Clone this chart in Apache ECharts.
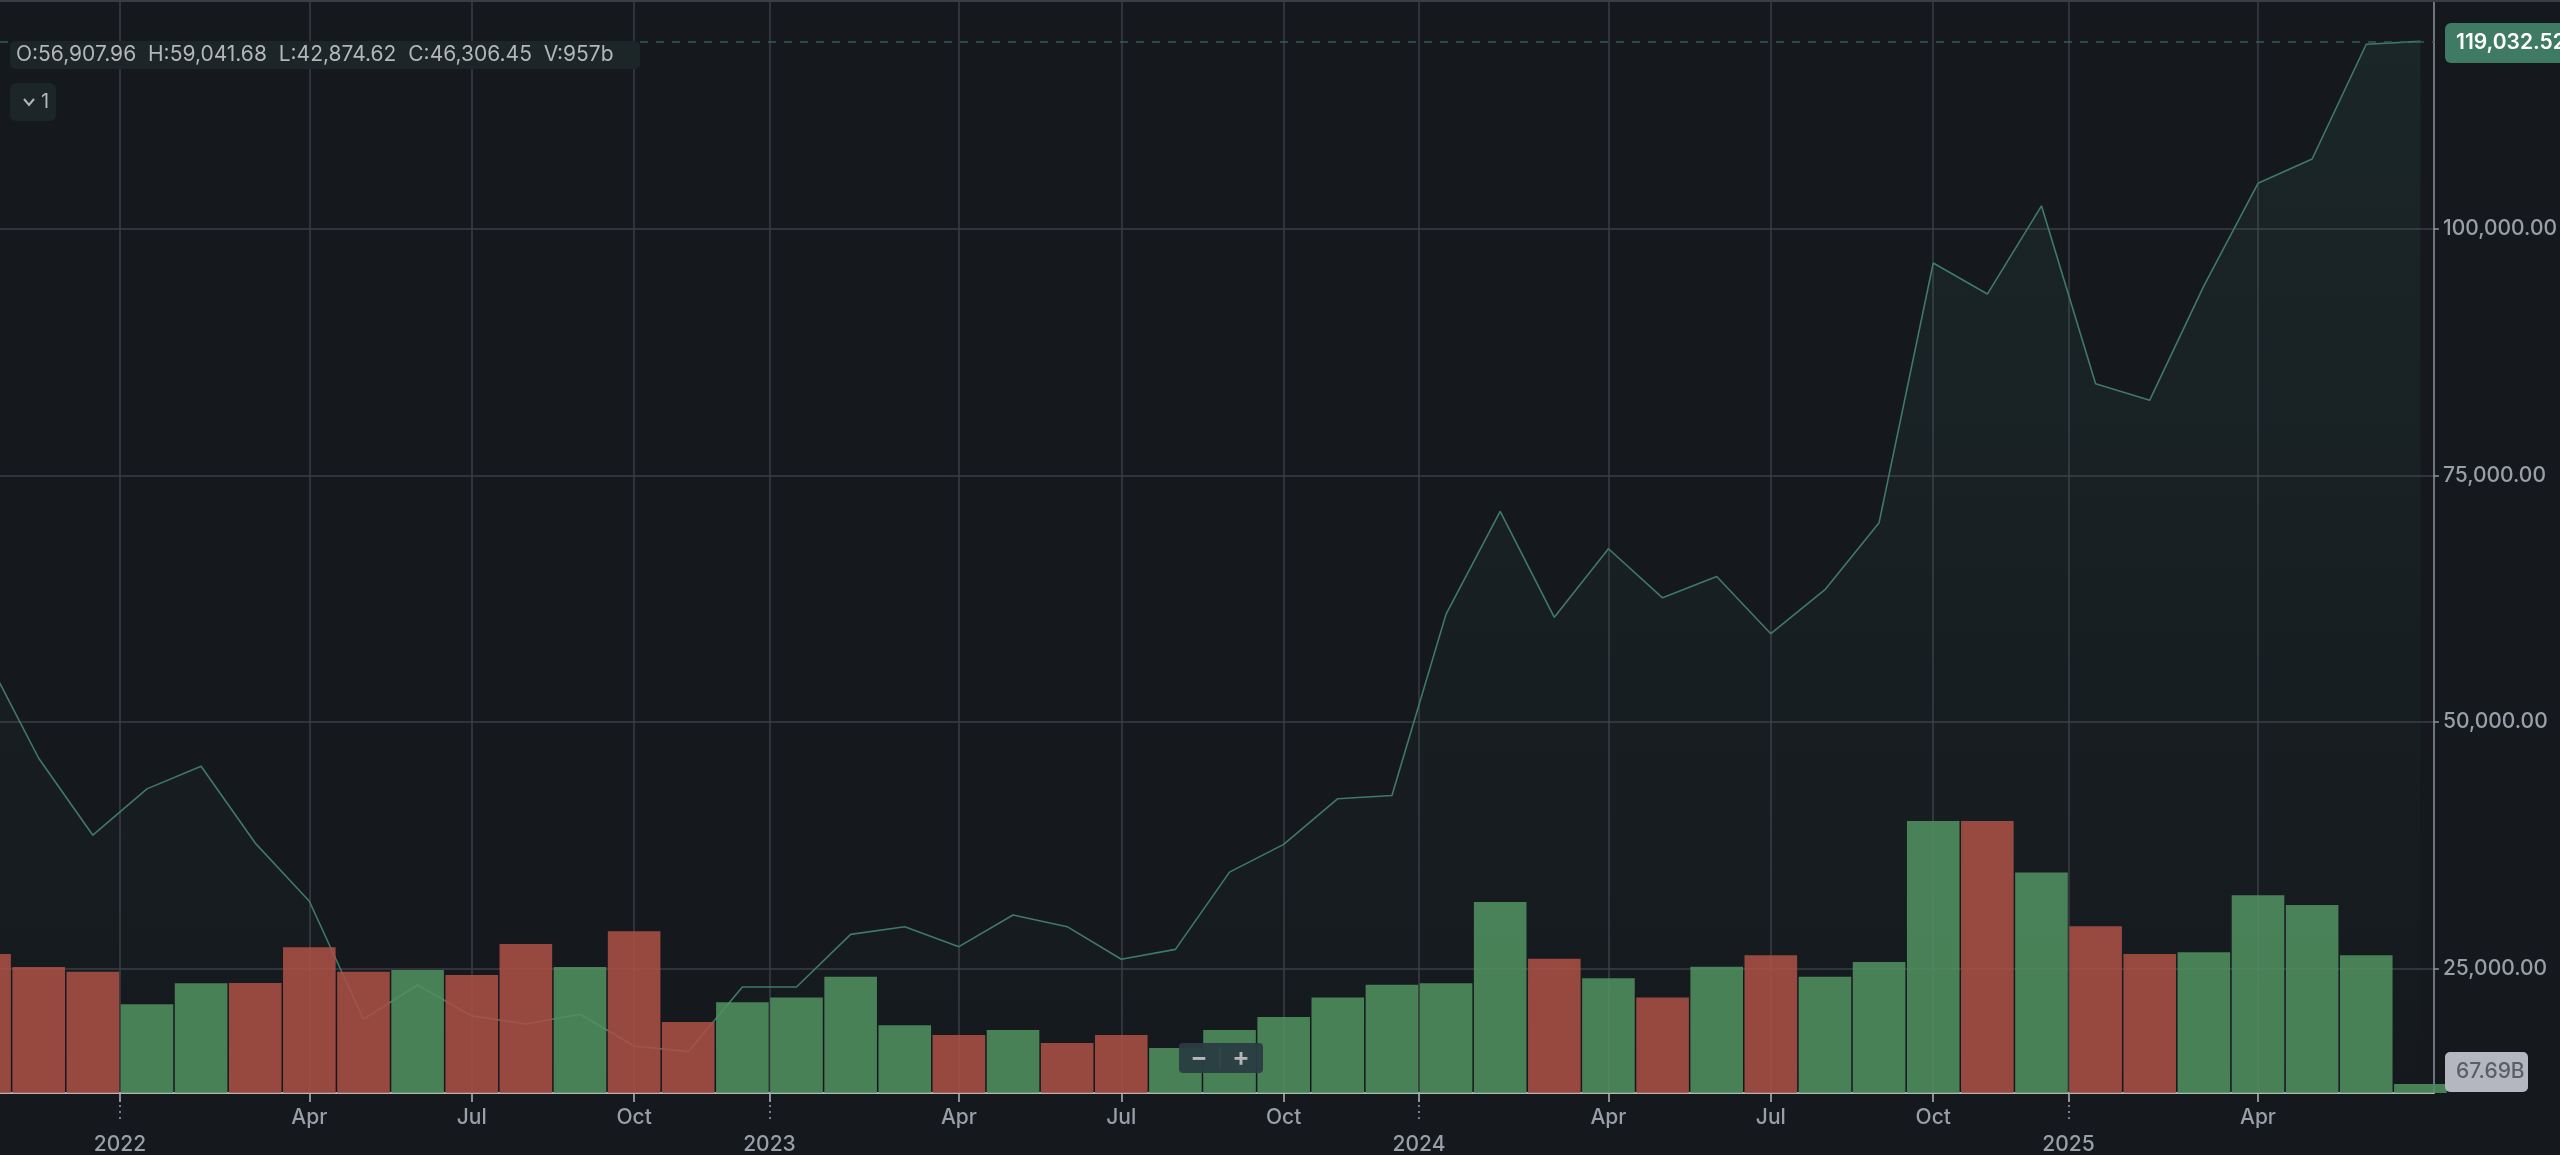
<!DOCTYPE html>
<html>
<head>
<meta charset="utf-8">
<style>
html,body{margin:0;padding:0;background:#15191e}
#chart{width:2560px;height:1155px}
</style>
<script src="https://cdn.jsdelivr.net/npm/echarts@6/dist/echarts.min.js"></script>
</head>
<body>
<div id="chart"></div>
<script>
// monthly close, one per bar
var closes = [56907.96,46306.45,38500,43200,45500,37700,31800,19830,23300,20170,19340,20330,17114,16540,23100,23100,
    28440,29220,27190,30400,29220,25910,26920,34750,37570,42200,42530,60930,71350,60600,67560,62580,64740,58940,63410,
    70210,96550,93400,102350,84290,82630,94230,104630,107100,118740,119032.52];
// volume in billions
var volumes = [1056,957,922,674,834,836,1107,922,935,897,1132,958,1229,540,689,725,884,514,441,479,380,441,342,479,578,
    725,823,834,1452,1021,872,725,960,1046,884,996,2067,2067,1675,1267,1056,1069,1503,1429,1046,67.69];
// u = green bar, d = red bar
var directions = ['d','d','d','u','u','d','d','d','u','d','d','u','d','d','u','u','u','u','d','u','d','d','u','u','u',
    'u','u','u','u','d','u','d','u','d','u','u','u','d','u','d','d','u','u','u','u','u'];
var monthTickBars = [6,9,12,18,21,24,30,33,36,42];
var monthTickLabels = ['Apr','Jul','Oct','Apr','Jul','Oct','Apr','Jul','Oct','Apr'];
var yearTickBars = [2.5,14.5,26.5,38.5];
var yearTickLabels = ['2022','2023','2024','2025'];
var priceTicks = [25000,50000,75000,100000];
var ohlcText = 'O:56,907.96  H:59,041.68  L:42,874.62  C:46,306.45  V:957b';
var lastPriceText = '119,032.52';
var lastVolumeText = '67.69B';

var FONT = 'Inter';
var lastBar = closes.length - 1;

var chart = echarts.init(document.getElementById('chart'));
var option = {
    animation: false,
    backgroundColor: '#15191e',
    textStyle: {fontFamily: FONT},
    grid: {left: 0, right: 113, top: 0, height: 1093},
    xAxis: [{
        type: 'value', min: 0.285, max: 45.25,
        position: 'bottom',
        axisLine: {show: true, onZero: false, lineStyle: {color: '#b3b6bd', width: 2}},
        axisTick: {show: true, length: 9, inside: false, customValues: monthTickBars.concat(yearTickBars), lineStyle: {color: '#b3b6bd', width: 1.5}},
        axisLabel: {
            show: true, margin: 14, customValues: monthTickBars, color: '#9a9ea8', fontSize: 21, fontWeight: 500, fontFamily: FONT,
            formatter: function (v) { return monthTickLabels[monthTickBars.indexOf(v)]; }
        },
        splitLine: {show: true, lineStyle: {color: '#3a3e44', width: 1.5}}
    }, {
        // year ticks have the dotted stem and sit one row lower
        type: 'value', min: 0.285, max: 45.25,
        position: 'bottom',
        axisLine: {show: false, onZero: false},
        axisTick: {show: true, length: 30, customValues: yearTickBars, lineStyle: {color: '#9a9ea8', width: 1.5, type: [2, 4]}},
        axisLabel: {
            show: true, margin: 41, customValues: yearTickBars, color: '#9a9ea8', fontSize: 21, fontWeight: 500, fontFamily: FONT,
            formatter: function (v) { return yearTickLabels[yearTickBars.indexOf(v)]; }
        },
        splitLine: {show: false}
    }],
    yAxis: [{
        type: 'value', position: 'right', min: 12346, max: 123231,
        axisLine: {show: true, onZero: false, lineStyle: {color: '#8f939c', width: 1.5}},
        axisTick: {show: true, length: 5, customValues: priceTicks, lineStyle: {color: '#8f939c', width: 1.5}},
        axisLabel: {
            show: true, margin: 9, customValues: priceTicks, color: '#9a9ea8', fontSize: 21, fontWeight: 500, fontFamily: FONT,
            formatter: function (v) { return v.toLocaleString('en-US', {minimumFractionDigits: 2, maximumFractionDigits: 2}); }
        },
        splitLine: {show: true, lineStyle: {color: '#3a3e44', width: 1.5}}
    }, {
        type: 'value', position: 'right', min: 0, max: 8307, show: false, splitLine: {show: false}
    }],
    series: [{
        type: 'line',
        xAxisIndex: 0, yAxisIndex: 0, z: 2,
        data: closes.map(function (c, i) { return [i, c]; }),
        showSymbol: false,
        lineStyle: {color: '#3e7a67', width: 1.6},
        itemStyle: {color: '#3e7a67'},
        areaStyle: {
            origin: 'start',
            color: new echarts.graphic.LinearGradient(0, 0, 0, 1093, [
                {offset: 0, color: 'rgba(62,122,103,0.2)'},
                {offset: 1, color: 'rgba(62,122,103,0)'}
            ], true)
        },
        markLine: {
            silent: true, symbol: 'none', animation: false,
            label: {show: false},
            lineStyle: {color: '#2f5f51', width: 1.5, type: [8, 8]},
            data: [{yAxis: closes[lastBar]}]
        }
    }, {
        type: 'bar',
        xAxisIndex: 0, yAxisIndex: 1, z: 3,
        barWidth: 52.6,
        data: volumes.map(function (v, i) {
            return {
                value: [i, v],
                itemStyle: {color: directions[i] === 'u' ? 'rgba(81,144,96,0.88)' : 'rgba(171,80,68,0.88)'}
            };
        })
    }],
    graphic: [
        {type: 'line', z: 10, shape: {x1: 0, y1: 1, x2: 2560, y2: 1}, style: {stroke: '#3a3e44', lineWidth: 2}},
        // OHLC strip
        {type: 'rect', z: 10, shape: {x: 10, y: 41, width: 630, height: 28, r: 5}, style: {fill: '#1c2528'}},
        {type: 'text', z: 11, x: 16, y: 55, style: {text: ohlcText, fill: '#b4b6ba', font: '400 21px Inter', textVerticalAlign: 'middle'}},
        // collapsed indicators badge
        {type: 'rect', z: 10, shape: {x: 10, y: 83, width: 46, height: 38, r: 6}, style: {fill: '#1c2528'}},
        {type: 'polyline', z: 11, shape: {points: [[24, 99], [29, 105], [34, 99]]}, style: {stroke: '#b4b6ba', lineWidth: 2, fill: null}},
        {type: 'text', z: 11, x: 41, y: 102, style: {text: '1', fill: '#b4b6ba', font: '400 20px Inter', textVerticalAlign: 'middle'}},
        // zoom buttons
        {type: 'rect', z: 10, shape: {x: 1179, y: 1043, width: 84, height: 30, r: 4}, style: {fill: 'rgba(42,60,66,0.95)'}},
        {type: 'line', z: 11, shape: {x1: 1220, y1: 1047, x2: 1220, y2: 1069}, style: {stroke: '#3a4c52', lineWidth: 1}},
        {type: 'text', z: 11, x: 1199, y: 1058, style: {text: '−', fill: '#b4b6ba', font: '600 26px Inter', textAlign: 'center', textVerticalAlign: 'middle'}},
        {type: 'text', z: 11, x: 1241, y: 1058, style: {text: '+', fill: '#b4b6ba', font: '600 26px Inter', textAlign: 'center', textVerticalAlign: 'middle'}},
        // last price tag
        {type: 'rect', z: 10, shape: {x: 2445, y: 23, width: 125, height: 40, r: 6}, style: {fill: '#3f7a65'}},
        {type: 'text', z: 11, x: 2456, y: 43, style: {text: lastPriceText, fill: '#ffffff', font: '600 21px Inter', textVerticalAlign: 'middle'}},
        // last volume tag
        {type: 'rect', z: 10, shape: {x: 2445, y: 1052, width: 83, height: 40, r: 5}, style: {fill: '#b4b7bf'}},
        {type: 'text', z: 11, x: 2456, y: 1072, style: {text: lastVolumeText, fill: '#5a5e66', font: '500 21px Inter', textVerticalAlign: 'middle'}}
    ]
};
chart.setOption(option);
window.addEventListener('resize', function () { chart.resize(); });
</script>
</body>
</html>
